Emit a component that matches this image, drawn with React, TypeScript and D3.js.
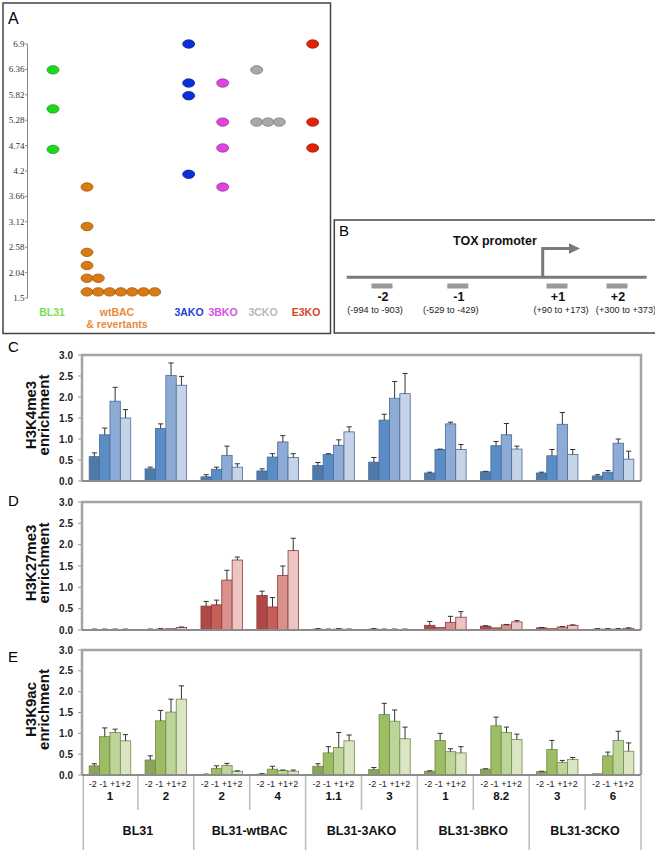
import React from 'react';
import * as d3 from 'd3';

// ---------- Panel A data ----------
const aTicks = [1.5, 2.04, 2.58, 3.12, 3.66, 4.2, 4.74, 5.28, 5.82, 6.36, 6.9];
const aGroupNames = ['BL31', 'wtBAC', '3AKO', '3BKO', '3CKO', 'E3KO'];
// [column, value]
const ptsBL31 = [[0, 6.35], [0, 5.52], [0, 4.66]];
const ptsWtBAC = [[0, 3.86], [0, 3.02], [0, 2.47], [0, 2.19], [0, 1.92], [1, 1.92], [0, 1.63], [1, 1.63], [2, 1.63], [3, 1.63], [4, 1.63], [5, 1.63], [6, 1.63]];
const pts3AKO = [[0, 6.9], [0, 6.07], [0, 5.8], [0, 4.13]];
const pts3BKO = [[0, 6.07], [0, 5.24], [0, 4.69], [0, 3.86]];
const pts3CKO = [[0, 6.35], [0, 5.24], [1, 5.24], [2, 5.24]];
const ptsE3KO = [[0, 6.9], [0, 5.24], [0, 4.69]];
const aPoints = [ptsBL31, ptsWtBAC, pts3AKO, pts3BKO, pts3CKO, ptsE3KO];

// ---------- Panel B data ----------
const ampNames = ['-2', '-1', '+1', '+2'];
const ampRanges = ['(-994 to -903)', '(-529 to -429)', '(+90 to +173)', '(+300 to +373)'];
const ampStart = [-994, -529, 90, 300];
const ampEnd = [-903, -429, 173, 373];

// ---------- Bar panels data ----------
const segLabels = ['-2', '-1', '+1', '+2'];
const replicates = ['1', '2', '2', '4', '1.1', '3', '1', '8.2', '3', '6'];
const cellLines = ['BL31', 'BL31-wtBAC', 'BL31-3AKO', 'BL31-3BKO', 'BL31-3CKO'];
const yTicks = [0, 0.5, 1, 1.5, 2, 2.5, 3];

const h3k4me3 = [[0.58, 1.10, 1.90, 1.50], [0.29, 1.25, 2.51, 2.28], [0.10, 0.28, 0.61, 0.33], [0.24, 0.57, 0.93, 0.56], [0.37, 0.63, 0.85, 1.17], [0.45, 1.45, 1.97, 2.08], [0.19, 0.75, 1.36, 0.75], [0.22, 0.84, 1.10, 0.76], [0.19, 0.60, 1.35, 0.63], [0.12, 0.21, 0.90, 0.52]];
const h3k4me3Err = [[0.09, 0.16, 0.33, 0.20], [0.04, 0.11, 0.30, 0.21], [0.05, 0.05, 0.22, 0.08], [0.05, 0.08, 0.15, 0.09], [0.07, 0.02, 0.13, 0.12], [0.11, 0.14, 0.40, 0.48], [0.02, 0.01, 0.04, 0.12], [0.01, 0.10, 0.27, 0.07], [0.02, 0.15, 0.28, 0.12], [0.03, 0.04, 0.10, 0.19]];

const h3k27me3 = [[0.01, 0.01, 0.01, 0.01], [0.01, 0.02, 0.03, 0.06], [0.56, 0.59, 1.17, 1.64], [0.81, 0.54, 1.28, 1.86], [0.02, 0.01, 0.02, 0.01], [0.02, 0.01, 0.01, 0.01], [0.11, 0.06, 0.18, 0.30], [0.09, 0.05, 0.12, 0.19], [0.05, 0.03, 0.07, 0.11], [0.02, 0.02, 0.02, 0.04]];
const h3k27me3Err = [[0, 0, 0, 0], [0, 0, 0, 0.01], [0.11, 0.11, 0.23, 0.07], [0.10, 0.22, 0.22, 0.29], [0, 0, 0, 0], [0, 0, 0, 0], [0.09, 0, 0.14, 0.13], [0.01, 0, 0.01, 0.03], [0.01, 0, 0.01, 0.01], [0, 0, 0, 0.01]];

const h3k9ac = [[0.22, 0.92, 1.02, 0.82], [0.36, 1.30, 1.51, 1.82], [0.01, 0.16, 0.23, 0.09], [0.02, 0.14, 0.11, 0.09], [0.21, 0.53, 0.66, 0.82], [0.13, 1.45, 1.29, 0.87], [0.09, 0.83, 0.56, 0.53], [0.14, 1.18, 1.02, 0.85], [0.08, 0.61, 0.30, 0.37], [0.03, 0.46, 0.83, 0.57]];
const h3k9acErr = [[0.05, 0.21, 0.08, 0.15], [0.10, 0.25, 0.31, 0.32], [0, 0.06, 0.05, 0.01], [0, 0.07, 0.01, 0.03], [0.06, 0.15, 0.36, 0.14], [0.05, 0.27, 0.27, 0.28], [0.01, 0.17, 0.07, 0.15], [0.01, 0.21, 0.13, 0.13], [0.01, 0.22, 0.05, 0.05], [0, 0.09, 0.22, 0.20]];

const SANS = '"Liberation Sans", Arial, sans-serif';
const SERIF = '"Liberation Serif", "Times New Roman", serif';

// ---------- Panel A ----------
function PanelA() {
  const y = d3.scaleLinear().domain([1.5, 6.9]).range([298, 44]);
  const groupX = [53, 87, 188.7, 222.7, 256.7, 312.7];
  const labelX = [52, 117, 189, 223, 263, 306];
  const colStep = 11.3;
  const fills = ['#1ed81e', '#d97a12', '#0b30d9', '#dd45dd', '#a8a8a8', '#e0220b'];
  const strokes = ['#17a017', '#a65b0a', '#0a2499', '#a232a2', '#7a7a7a', '#a31a08'];
  const labelColors = ['#77dd55', '#e98a3c', '#1f3fd0', '#d552e0', '#b8b8b8', '#d8432c'];
  return (
    <g>
      <rect x={3} y={3} width={327.5} height={330.5} fill="none" stroke="#444" strokeWidth={1.5} />
      <text x={8} y={24} fontFamily={SANS} fontSize={16}>A</text>
      <line x1={27.5} x2={27.5} y1={y(6.9)} y2={y(1.5)} stroke="#888" strokeWidth={1} />
      {aTicks.map((t) => (
        <g key={t}>
          <line x1={25} x2={27.5} y1={y(t)} y2={y(t)} stroke="#888" />
          <text x={24.5} y={y(t) + 3} textAnchor="end" fontFamily={SERIF} fontSize={9} fill="#333">{String(t)}</text>
        </g>
      ))}
      {aPoints.map((pts, gi) =>
        pts.map((p, i) => (
          <ellipse key={gi + '-' + i} cx={groupX[gi] + p[0] * colStep} cy={y(p[1])} rx={6} ry={4.2}
            fill={fills[gi]} stroke={strokes[gi]} strokeWidth={0.8} />
        ))
      )}
      {aGroupNames.map((g, i) => (
        <text key={g} x={labelX[i]} y={316} textAnchor="middle" fontFamily={SANS} fontSize={10.5}
          fill={labelColors[i]} fontWeight="bold">{g}</text>
      ))}
      <text x={labelX[1]} y={328} textAnchor="middle" fontFamily={SANS} fontSize={10.5} fill={labelColors[1]} fontWeight="bold">&amp; revertants</text>
    </g>
  );
}

// ---------- Panel B ----------
function PanelB() {
  const centersBp = ampStart.map((s, i) => (s + ampEnd[i]) / 2);
  const x = d3.scaleLinear().domain([centersBp[0], centersBp[1], 0, centersBp[2], centersBp[3]])
    .range([382, 457.8, 542.7, 557, 617]);
  const lineY = 277.3;
  const tss = x(0);
  return (
    <g>
      <rect x={334.3} y={220} width={330} height={113} fill="none" stroke="#444" strokeWidth={1.5} />
      <text x={339} y={236} fontFamily={SANS} fontSize={15}>B</text>
      <line x1={346.7} x2={646.7} y1={lineY} y2={lineY} stroke="#7a7a7a" strokeWidth={3} />
      <path d={`M${tss},${lineY} V248.5 H571`} fill="none" stroke="#7a7a7a" strokeWidth={3} />
      <path d={`M569,243.3 L580,248.5 L569,253.7 Z`} fill="#7a7a7a" />
      <text x={453} y={245} fontFamily={SANS} fontSize={12.5} fontWeight="bold" fill="#111">TOX promoter</text>
      {ampNames.map((n, i) => {
        const c = x(centersBp[i]);
        return (
          <g key={n}>
            <rect x={c - 10.5} y={283.5} width={21} height={5} fill="#999" />
            <text x={c + 1} y={301} textAnchor="middle" fontFamily={SANS} fontSize={12.5} fontWeight="bold" fill="#111">{n}</text>
            <text x={c + [-7, -7, 4, 9][i]} y={312.5} textAnchor="middle" fontFamily={SANS} fontSize={9.2} fill="#222">{ampRanges[i]}</text>
          </g>
        );
      })}
    </g>
  );
}

// ---------- Bar panels ----------
type BarProps = {
  letter: string; letterY: number; title: string; y3: number; y0: number;
  values: number[][]; errs: number[][]; fills: string[]; stroke: string;
};

const X0 = 82;
const X1 = 641;

function BarPanel({ letter, letterY, title, y3, y0, values, errs, fills, stroke }: BarProps) {
  const y = d3.scaleLinear().domain([0, 3]).range([y0, y3]);
  const xc = d3.scaleBand<number>().domain(d3.range(values.length)).range([X0, X1]).padding(0);
  const xs = d3.scaleBand<number>().domain(d3.range(4)).range([0, xc.bandwidth()]).paddingInner(0).paddingOuter(0.69);
  const mid = (y0 + y3) / 2 - 3;
  return (
    <g>
      <text x={8} y={letterY} fontFamily={SANS} fontSize={15}>{letter}</text>
      <text transform={`translate(36,${mid}) rotate(-90)`} textAnchor="middle" fontFamily={SANS} fontSize={15} fontWeight="bold" fill="#111">{title}</text>
      <text transform={`translate(49,${mid}) rotate(-90)`} textAnchor="middle" fontFamily={SANS} fontSize={15} fontWeight="bold" fill="#111">enrichment</text>
      {yTicks.map((t) => (
        <g key={t}>
          <text x={73} y={y(t) + 3.5} textAnchor="end" fontFamily={SANS} fontSize={10} fontWeight="bold" fill="#222">{t.toFixed(1)}</text>
          <line x1={78} x2={X0} y1={y(t)} y2={y(t)} stroke="#999" strokeWidth={1} />
        </g>
      ))}
      {values.map((grp, gi) =>
        grp.map((v, si) => {
          const bx = (xc(gi) as number) + (xs(si) as number);
          const bw = xs.bandwidth();
          const top = y(v);
          const et = y(v + errs[gi][si]);
          const cx = bx + bw / 2;
          return (
            <g key={gi + '-' + si}>
              <rect x={bx} y={top} width={bw} height={Math.max(0, y0 - top)} fill={fills[si]} stroke={stroke} strokeWidth={0.8} />
              {errs[gi][si] > 0 && (
                <g stroke="#333" strokeWidth={1}>
                  <line x1={cx} x2={cx} y1={top} y2={et} />
                  <line x1={cx - 2.6} x2={cx + 2.6} y1={et} y2={et} />
                </g>
              )}
              {v + errs[gi][si] <= 0.02 && (
                <line x1={cx - 2.6} x2={cx + 2.6} y1={top - 0.5} y2={top - 0.5} stroke="#333" strokeWidth={1} />
              )}
            </g>
          );
        })
      )}
      <path d={`M${X0},${y0} V${y3} H${X1} V${y0}`} fill="none" stroke="#a3a3a3" strokeWidth={2.5} />
      <line x1={X0} x2={X1} y1={y0} y2={y0} stroke="#8c8c8c" strokeWidth={2} />
    </g>
  );
}

function CategoryTable({ y0 }: { y0: number }) {
  const xc = d3.scaleBand<number>().domain(d3.range(replicates.length)).range([X0, X1]).padding(0);
  const xs = d3.scaleBand<number>().domain(d3.range(4)).range([0, xc.bandwidth()]).paddingInner(0).paddingOuter(0.69);
  const bounds = d3.range(replicates.length + 1).map((k) => X0 + k * xc.bandwidth());
  return (
    <g>
      {bounds.map((bx, k) => (
        <line key={k} x1={k === 0 ? bx + 1.3 : bx} x2={k === 0 ? bx + 1.3 : bx} y1={y0 + 1} y2={k % 2 === 1 ? 810 : 850} stroke="#bbb" strokeWidth={1.5} />
      ))}
      {replicates.map((r, gi) => (
        <g key={gi}>
          {segLabels.map((s, si) => (
            <text key={si} x={(xc(gi) as number) + (xs(si) as number) + xs.bandwidth() / 2 - (si < 2 ? 1.5 : 0)} y={786.5}
              textAnchor="middle" fontFamily={SANS} fontSize={9} fill="#222">{s}</text>
          ))}
          <text x={(xc(gi) as number) + xc.bandwidth() / 2} y={799.5} textAnchor="middle" fontFamily={SANS} fontSize={11.5} fontWeight="bold" fill="#111">{r}</text>
        </g>
      ))}
      {cellLines.map((c, i) => (
        <text key={c} x={X0 + (2 * i + 1) * xc.bandwidth()} y={835} textAnchor="middle" fontFamily={SANS} fontSize={12.5} fontWeight="bold" fill="#111">{c}</text>
      ))}
    </g>
  );
}

export default function App() {
  return (
    <svg width={655} height={850} viewBox="0 0 655 850" style={{ position: 'absolute', left: 0, top: 0, background: '#fff' }}>
      <rect x={0} y={0} width={655} height={850} fill="#fff" />
      <PanelA />
      <PanelB />
      <BarPanel letter="C" letterY={352} title="H3K4me3" y3={355} y0={481} values={h3k4me3} errs={h3k4me3Err}
        fills={['#4e7aa9', '#5a8cc5', '#8eabd5', '#c5d3e9']} stroke="#4a6b96" />
      <BarPanel letter="D" letterY={506} title="H3K27me3" y3={502} y0={630} values={h3k27me3} errs={h3k27me3Err}
        fills={['#ad4a47', '#c65f59', '#d9918d', '#ecc4c2']} stroke="#8f3c39" />
      <BarPanel letter="E" letterY={662} title="H3K9ac" y3={650} y0={775} values={h3k9ac} errs={h3k9acErr}
        fills={['#8aa55b', '#9cbd64', '#bdd49b', '#d9e5c3']} stroke="#718c47" />
      <CategoryTable y0={775} />
    </svg>
  );
}
